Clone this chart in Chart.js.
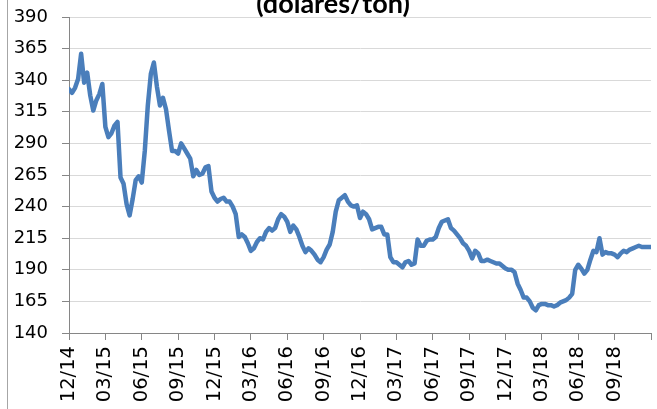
<!DOCTYPE html>
<html>
<head>
<meta charset="utf-8">
<script src="https://cdn.jsdelivr.net/npm/chart.js@4/dist/chart.umd.min.js"></script>
<style>
  html, body { margin: 0; padding: 0; background: #ffffff; }
  canvas { display: block; }
</style>
</head>
<body>
<canvas id="c" width="657" height="409"></canvas>
<script>
// ---- data ----
const titleText = "(dólares/ton)";
const tickLabels = ["12/14","03/15","06/15","09/15","12/15","03/16","06/16","09/16",
                    "12/16","03/17","06/17","09/17","12/17","03/18","06/18","09/18"];
const monthsPerTick = 3;
const samplesPerMonth = 4; // roughly weekly readings starting 12/14
const prices = [
  333,330,334,341,361,338,346,328,316,324,
  329,337,303,295,298,304,307,263,258,242,
  233,246,261,264,259,284,320,345,354,335,
  320,326,317,300,284,284,282,290,286,282,
  278,264,269,265,266,271,272,252,247,244,
  246,247,244,244,240,234,216,218,216,211,
  205,207,212,215,214,220,223,221,223,230,
  234,232,228,220,225,222,216,209,204,207,
  205,202,198,196,200,206,210,220,236,245,
  247,249,244,241,240,241,231,236,234,230,
  222,223,224,224,218,218,200,196,196,194,
  192,196,197,194,195,214,209,209,213,214,
  214,216,223,228,229,230,223,221,218,215,
  211,209,205,199,205,203,197,197,198,197,
  196,195,195,193,191,190,190,188,179,174,
  168,168,165,160,158,162,163,163,162,162,
  161,162,164,165,166,168,171,190,194,191,
  187,190,198,205,204,215,202,204,203,203,
  202,200,203,205,204,206,207,208,209,208,
  208,208,208
];
const yMin = 140, yMax = 390, yStep = 25;

// ---- chart ----
const points = prices.map((v, i) => ({ x: i / samplesPerMonth, y: v }));
const axisGray = "#868686";
const gridGray = "#d9d9d9";

const decor = {
  id: "decor",
  afterDraw(chart) {
    const ctx = chart.ctx;
    ctx.save();
    ctx.strokeStyle = "#a6a6a6";
    ctx.lineWidth = 1;
    ctx.beginPath();
    ctx.moveTo(7.5, 0);
    ctx.lineTo(7.5, chart.height);
    ctx.stroke();
    ctx.fillStyle = "#000000";
    ctx.font = 'bold 27px Lato';
    ctx.textAlign = "center";
    ctx.textBaseline = "alphabetic";
    ctx.fillText(titleText, 333, 13);
    ctx.restore();
  }
};

new Chart(document.getElementById("c"), {
  type: "line",
  data: {
    datasets: [{
      data: points,
      borderColor: "#4a7ebb",
      backgroundColor: "#4a7ebb",
      borderWidth: 4.5,
      pointRadius: 0,
      tension: 0,
      borderJoinStyle: "round",
      borderCapStyle: "round",
      fill: false
    }]
  },
  options: {
    responsive: false,
    animation: false,
    layout: { padding: { top: 17, right: 6, left: 0, bottom: 0 } },
    plugins: { legend: { display: false }, tooltip: { enabled: false }, title: { display: false } },
    scales: {
      x: {
        type: "linear",
        min: 0,
        max: tickLabels.length * monthsPerTick,
        afterFit(s) { s.height = 76; s.paddingLeft = 0; s.paddingRight = 0; },
        afterBuildTicks(s) {
          const t = [];
          for (let i = 0; i <= tickLabels.length; i++) t.push({ value: i * monthsPerTick });
          s.ticks = t;
        },
        ticks: {
          autoSkip: false,
          maxRotation: 90,
          minRotation: 90,
          padding: 6,
          color: "#000000",
          font: { family: "DejaVu Sans", size: 19.5 },
          callback: (v) => tickLabels[Math.round(v / monthsPerTick)] ?? ""
        },
        grid: { drawOnChartArea: false, drawTicks: true, tickLength: 7, tickColor: axisGray, color: axisGray },
        border: { color: axisGray, width: 1 }
      },
      y: {
        min: yMin,
        max: yMax,
        afterFit(s) { s.width = 69; s.paddingTop = 0; s.paddingBottom = 0; },
        ticks: { stepSize: yStep, padding: 14, color: "#000000", font: { family: "DejaVu Sans", size: 18 } },
        grid: { color: gridGray, lineWidth: 1, tickLength: 7, tickColor: axisGray },
        border: { color: axisGray, width: 1 }
      }
    }
  },
  plugins: [decor]
});
</script>
</body>
</html>
